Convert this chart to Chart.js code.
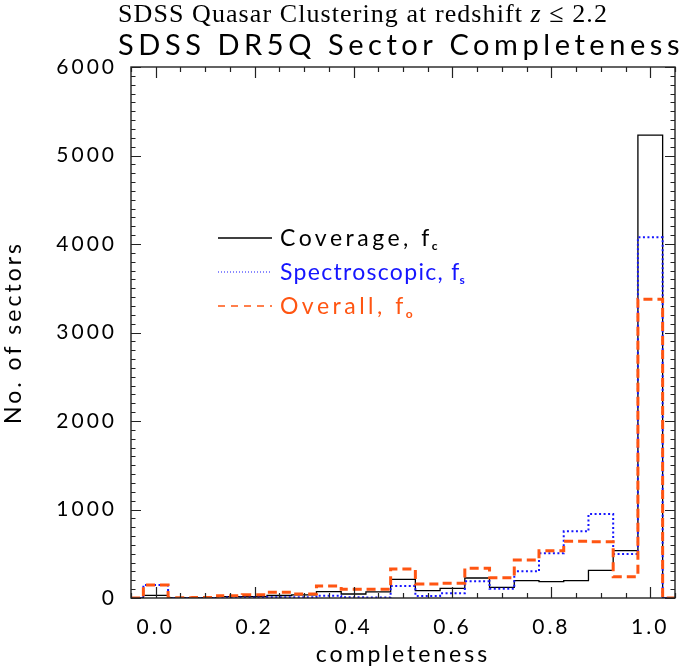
<!DOCTYPE html>
<html>
<head>
<meta charset="utf-8">
<title>SDSS DR5Q Sector Completeness</title>
<script src="https://cdn.jsdelivr.net/npm/chart.js@4.4.1/dist/chart.umd.min.js"></script>
<style>
    html, body { margin: 0; padding: 0; background: #fff; }
    canvas { display: block; }
</style>
</head>
<body>
<canvas id="chart" width="687" height="666"></canvas>
<script>
// Histogram bin centres and counts per bin
const completeness  = [0.00, 0.05, 0.10, 0.15, 0.20, 0.25, 0.30, 0.35, 0.40, 0.45, 0.50,
                       0.55, 0.60, 0.65, 0.70, 0.75, 0.80, 0.85, 0.90, 0.95, 1.00];
const coverage      = [30, 3, 3, 15, 15, 28, 35, 71, 45, 70, 211,
                       83, 109, 226, 120, 196, 185, 196, 313, 535, 5230];
const spectroscopic = [147, 0, 0, 5, 5, 8, 8, 26, 8, 5, 136,
                       23, 53, 188, 105, 301, 505, 753, 949, 497, 4075];
const overall       = [147, 3, 6, 26, 37, 64, 45, 136, 98, 100, 328,
                       158, 166, 335, 230, 429, 535, 640, 636, 241, 3375];

const xTicks = [0.0, 0.2, 0.4, 0.6, 0.8, 1.0];
const yTicks = [0, 1000, 2000, 3000, 4000, 5000, 6000];

const X_MIN = -0.05, X_MAX = 1.05;
const SANS  = "Lato";
const BLUE = "#1515ff", ORANGE = "#ff5512";

// histogram as a step line, closed to zero at both axis ends
const steps = vals => [
    { x: X_MIN, y: 0 },
    ...completeness.map((c, i) => ({ x: c, y: vals[i] })),
    { x: X_MAX, y: 0 }
];

const legendItems = [
    { text: "Coverage, f",      sub: "c", color: "#000", dash: [],     width: 1.4, y: 238, sp: 3.5 },
    { text: "Spectroscopic, f", sub: "s", color: BLUE,   dash: [1, 2], width: 1.2, y: 272, sp: 1.3 },
    { text: "Overall, f",       sub: "o", color: ORANGE, dash: [7, 6], width: 1.6, y: 306, sp: 3.5 }
];

// spread a run of text pieces over a given width (IDL's fonts are wide)
function drawFitted(ctx, parts, x, y, width) {
    ctx.letterSpacing = "0px";
    let chars = 0, w = 0;
    parts.forEach(p => { ctx.font = p.f; w += ctx.measureText(p.t).width; chars += p.t.length; });
    const sp = (width - w) / chars;
    ctx.letterSpacing = sp + "px";
    ctx.textAlign = "left";
    parts.forEach(p => {
        ctx.font = p.f;
        ctx.fillText(p.t, x, y);
        x += ctx.measureText(p.t).width;
    });
    ctx.letterSpacing = "0px";
}

const idlFrame = {
    id: "idlFrame",
    beforeDraw(chart) {
        chart.ctx.letterSpacing = "3px";
    },
    afterDraw(chart) {
        const ctx = chart.ctx;
        const { left, right, top, bottom } = chart.chartArea;
        const xs = chart.scales.x, ys = chart.scales.y;

        ctx.save();
        ctx.letterSpacing = "0px";
        ctx.strokeStyle = "#222";
        ctx.lineWidth = 1.4;
        ctx.strokeRect(left, top, right - left, bottom - top);

        // ticks on all four sides, pointing in
        ctx.lineWidth = 1.2;
        ctx.beginPath();
        for (let k = -1; k <= 21; k++) {
            const v = k * 0.05;
            const px = Math.round(xs.getPixelForValue(v)) + 0.5;
            const major = xTicks.some(t => Math.abs(t - v) < 1e-6);
            const len = major ? 11 : 5;
            ctx.moveTo(px, bottom); ctx.lineTo(px, bottom - len);
            ctx.moveTo(px, top);    ctx.lineTo(px, top + len);
        }
        for (let k = 0; k <= 60; k++) {
            const py = Math.round(ys.getPixelForValue(k * 100)) + 0.5;
            const len = k % 10 === 0 ? 10 : 4.5;
            ctx.moveTo(left, py);  ctx.lineTo(left + len, py);
            ctx.moveTo(right, py); ctx.lineTo(right - len, py);
        }
        ctx.stroke();

        // titles
        ctx.fillStyle = "#000";
        ctx.textBaseline = "alphabetic";
        const serif = "26px 'Liberation Serif'";
        drawFitted(ctx, [
            { t: "SDSS Quasar Clustering at redshift ", f: serif },
            { t: "z",                                  f: "italic " + serif },
            { t: " \u2264 2.2",                        f: serif }
        ], 118, 22, 490);
        drawFitted(ctx, [{ t: "SDSS DR5Q Sector Completeness", f: `29px ${SANS}` }], 118, 55, 566);

        // legend
        legendItems.forEach(it => {
            ctx.strokeStyle = it.color;
            ctx.lineWidth = it.width;
            ctx.setLineDash(it.dash);
            ctx.beginPath();
            ctx.moveTo(218, it.y); ctx.lineTo(272, it.y);
            ctx.stroke();
            ctx.setLineDash([]);

            ctx.fillStyle = it.color;
            ctx.textAlign = "left";
            ctx.font = `23px ${SANS}`;
            ctx.letterSpacing = it.sp + "px";
            ctx.fillText(it.text, 280, it.y + 8);
            const w = ctx.measureText(it.text).width;
            ctx.font = `bold 12px ${SANS}`;
            ctx.letterSpacing = "0px";
            ctx.fillText(it.sub, 280 + w - 1, it.y + 12);
        });
        ctx.restore();
    }
};

new Chart(document.getElementById("chart"), {
    type: "line",
    data: {
        datasets: [
            { label: "Overall",       data: steps(overall),       borderColor: ORANGE, borderWidth: 3,   borderDash: [9, 5], order: 0 },
            { label: "Spectroscopic", data: steps(spectroscopic), borderColor: BLUE,   borderWidth: 2,   borderDash: [2, 2.5], order: 1 },
            { label: "Coverage",      data: steps(coverage),      borderColor: "#000", borderWidth: 1.3, order: 2 }
        ]
    },
    options: {
        responsive: false,
        animation: false,
        devicePixelRatio: 1,
        layout: { padding: { top: 67, right: 12, left: 0, bottom: 0 } },
        elements: {
            line: { stepped: "middle", fill: false, tension: 0 },
            point: { radius: 0, hoverRadius: 0 }
        },
        plugins: { legend: { display: false }, tooltip: { enabled: false }, title: { display: false } },
        scales: {
            x: {
                type: "linear", min: X_MIN, max: X_MAX,
                grid: { display: false }, border: { display: false },
                afterBuildTicks: s => { s.ticks = xTicks.map(v => ({ value: v })); },
                afterFit: s => { s.height = 68; s.paddingLeft = 0; s.paddingRight = 0; },
                ticks: {
                    color: "#000", padding: 9, maxRotation: 0, autoSkip: false,
                    font: { family: SANS, size: 21 },
                    callback: v => v.toFixed(1)
                },
                title: {
                    display: true, text: "completeness", color: "#000",
                    font: { family: SANS, size: 23 }, padding: { top: 0, bottom: -2 }
                }
            },
            y: {
                min: 0, max: 6000,
                grid: { display: false }, border: { display: false },
                afterBuildTicks: s => { s.ticks = yTicks.map(v => ({ value: v })); },
                afterFit: s => { s.width = 131; },
                ticks: {
                    color: "#000", padding: 6,
                    font: { family: SANS, size: 21 },
                    callback: v => String(v)
                },
                title: {
                    display: true, text: "No. of sectors", color: "#000",
                    font: { family: SANS, size: 23 }, padding: { top: 0, bottom: 0 }
                }
            }
        }
    },
    plugins: [idlFrame]
});
</script>
</body>
</html>
